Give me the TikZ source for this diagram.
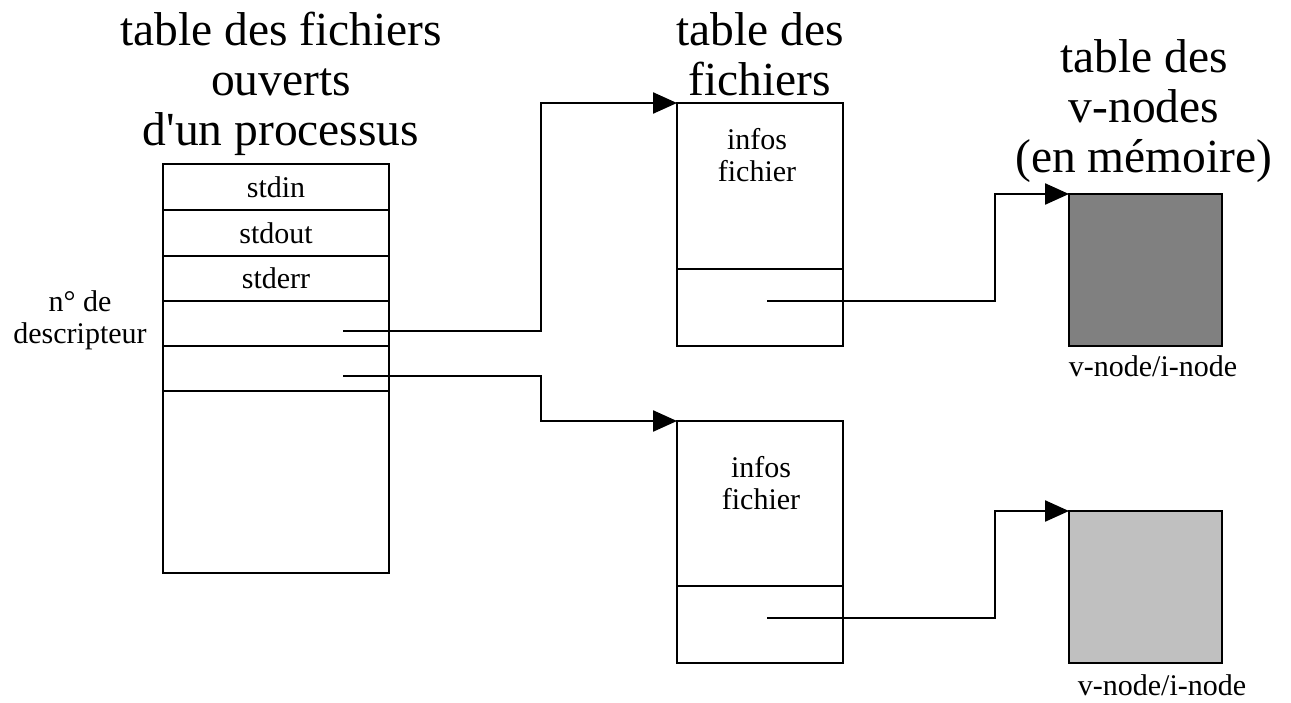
\documentclass[tikz,border=0pt]{standalone}
\usepackage{fontspec}
\setmainfont{Liberation Serif}[Ligatures=TeXOff]
\usetikzlibrary{arrows.meta}
\tikzset{
  box/.style={draw, line width=2.4pt, inner sep=0pt, outer sep=0pt, anchor=north west},
  cell/.style={draw, line width=2.4pt, inner sep=0pt, outer sep=0pt, minimum width=226pt,
    font=\fontsize{30}{31.5}\selectfont},
  title/.style={align=center, anchor=base, inner sep=0pt, font=\fontsize{47.5}{50}\selectfont},
  small/.style={align=center, anchor=base, inner sep=0pt, font=\fontsize{30}{31.5}\selectfont},
  conn/.style={line width=2.4pt, -{Triangle[length=24pt,width=21pt]}},
}
\begin{document}
\begin{tikzpicture}[x=1pt,y=-1pt]
\useasboundingbox (0,0) rectangle (1291,702);
% titles (anchor = baseline of last line)
\node[title] (t1) at (281,145) {table des fichiers\\ouverts\\d'un processus};
\node[title] (t2) at (760,95) {table des\\fichiers};
\node[title] (t3) at (1144,172) {table des\\v-nodes\\(en mémoire)};
% left table
\node[cell, minimum height=46pt] (c1) at (276,187) {stdin};
\node[cell, minimum height=46pt] (c2) at (276,233) {stdout};
\node[cell, minimum height=45pt] (c3) at (276,278.5) {stderr};
\node[cell, minimum height=45pt] (c4) at (276,323.5) {};
\node[cell, minimum height=45pt] (c5) at (276,368.5) {};
\node[cell, minimum height=182pt] (c6) at (276,482) {};
\node[small] (nd) at (80,343) {n° de\\descripteur};
\coordinate (d1) at (343,331);
\coordinate (d2) at (343,376);
% file table entries
\node[box, minimum width=166pt, minimum height=166pt] (f1top) at (677,103) {};
\node[box, minimum width=166pt, minimum height=77pt] (f1bot) at (677,269) {};
\node[small] (f1txt) at (757,181) {infos\\fichier};
\node[box, minimum width=166pt, minimum height=165pt] (f2top) at (677,421) {};
\node[box, minimum width=166pt, minimum height=77pt] (f2bot) at (677,586) {};
\node[small] (f2txt) at (761,509) {infos\\fichier};
\coordinate (p1) at (767,301);
\coordinate (p2) at (767,618);
% v-nodes
\node[box, fill={rgb,255:red,128;green,128;blue,128}, minimum width=153pt, minimum height=152pt] (v1) at (1069,194) {};
\node[box, fill={rgb,255:red,192;green,192;blue,192}, minimum width=153pt, minimum height=152pt] (v2) at (1069,511) {};
\node[small] (v1l) at (1153,376) {v-node/i-node};
\node[small] (v2l) at (1162,695) {v-node/i-node};
% connectors
\draw[conn] (d1) -| ([xshift=-136pt]f1top.north west) -- (f1top.north west);
\draw[conn] (d2) -| ([xshift=-136pt]f2top.north west) -- (f2top.north west);
\draw[conn] (p1) -| ([xshift=-74pt]v1.north west) -- (v1.north west);
\draw[conn] (p2) -| ([xshift=-74pt]v2.north west) -- (v2.north west);
\end{tikzpicture}
\end{document}
